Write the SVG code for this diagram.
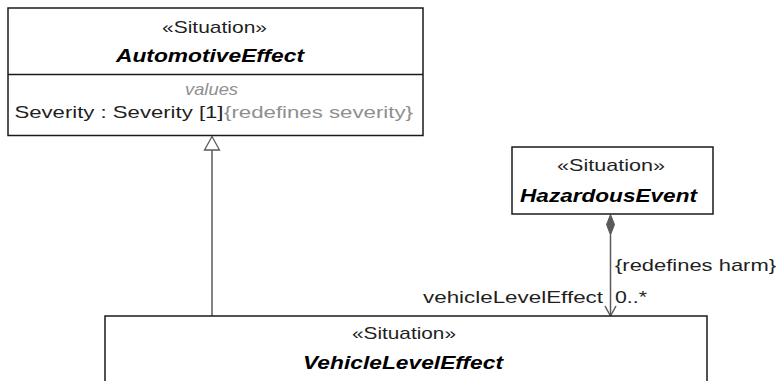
<svg xmlns="http://www.w3.org/2000/svg" width="779" height="381" viewBox="0 0 779 381">
  <style>
    .box { fill: #ffffff; stroke: #1a1a1a; stroke-width: 1.5; }
    .sep { stroke: #1a1a1a; stroke-width: 1.3; }
    .t { font-family: "Liberation Sans", Arial, sans-serif; font-size: 17px; fill: #1f1f1f; }
    .name { font-family: "Liberation Sans", Arial, sans-serif; font-size: 18px; font-weight: bold; font-style: italic; fill: #000000; }
    .gray { fill: #8f8f8f; }
    .it { font-style: italic; }
    .edge { stroke: #5a5a5a; stroke-width: 1.5; fill: none; }
  </style>
  <rect width="779" height="381" fill="#ffffff"/>

  <g id="connectors">
    <!-- generalization: VehicleLevelEffect specializes AutomotiveEffect -->
    <line class="edge" x1="212" y1="316" x2="212" y2="150"/>
    <polygon points="212,136.5 204.5,150 219.5,150" fill="#ffffff" stroke="#5a5a5a" stroke-width="1.3"/>
    <!-- composition: HazardousEvent owns vehicleLevelEffect -->
    <line class="edge" x1="610.5" y1="235" x2="610.5" y2="315.5"/>
    <polygon points="610.5,214.5 614.5,224.5 610.5,235 606.5,224.5" fill="#5a5a5a" stroke="#5a5a5a" stroke-width="1"/>
    <polyline class="edge" points="605,306 610.5,316 616,306"/>
    <text class="t" x="615" y="271" textLength="161" lengthAdjust="spacingAndGlyphs">{redefines harm}</text>
    <text class="t" x="423" y="303" textLength="180" lengthAdjust="spacingAndGlyphs">vehicleLevelEffect</text>
    <text class="t" x="615" y="303" textLength="32" lengthAdjust="spacingAndGlyphs">0..*</text>
  </g>

  <g id="AutomotiveEffect">
    <rect class="box" x="8" y="8" width="415" height="127.5"/>
    <line class="sep" x1="8" y1="74.5" x2="423" y2="74.5"/>
    <text class="t" x="162" y="33" textLength="105" lengthAdjust="spacingAndGlyphs">«Situation»</text>
    <text class="name" x="116" y="62" textLength="188" lengthAdjust="spacingAndGlyphs">AutomotiveEffect</text>
    <text class="t gray it" x="185" y="95" textLength="53" lengthAdjust="spacingAndGlyphs">values</text>
    <text class="t" x="14.5" y="118" textLength="209" lengthAdjust="spacingAndGlyphs">Severity : Severity [1]</text>
    <text class="t gray" x="224" y="118" textLength="189" lengthAdjust="spacingAndGlyphs">{redefines severity}</text>
  </g>

  <g id="HazardousEvent">
    <rect class="box" x="512" y="147" width="201" height="67"/>
    <text class="t" x="557" y="171" textLength="108" lengthAdjust="spacingAndGlyphs">«Situation»</text>
    <text class="name" x="520" y="202" textLength="177" lengthAdjust="spacingAndGlyphs">HazardousEvent</text>
  </g>

  <g id="VehicleLevelEffect">
    <rect class="box" x="105" y="316" width="602" height="80"/>
    <text class="t" x="352" y="339" textLength="104" lengthAdjust="spacingAndGlyphs">«Situation»</text>
    <text class="name" x="303" y="368.5" textLength="200" lengthAdjust="spacingAndGlyphs">VehicleLevelEffect</text>
  </g>
</svg>
